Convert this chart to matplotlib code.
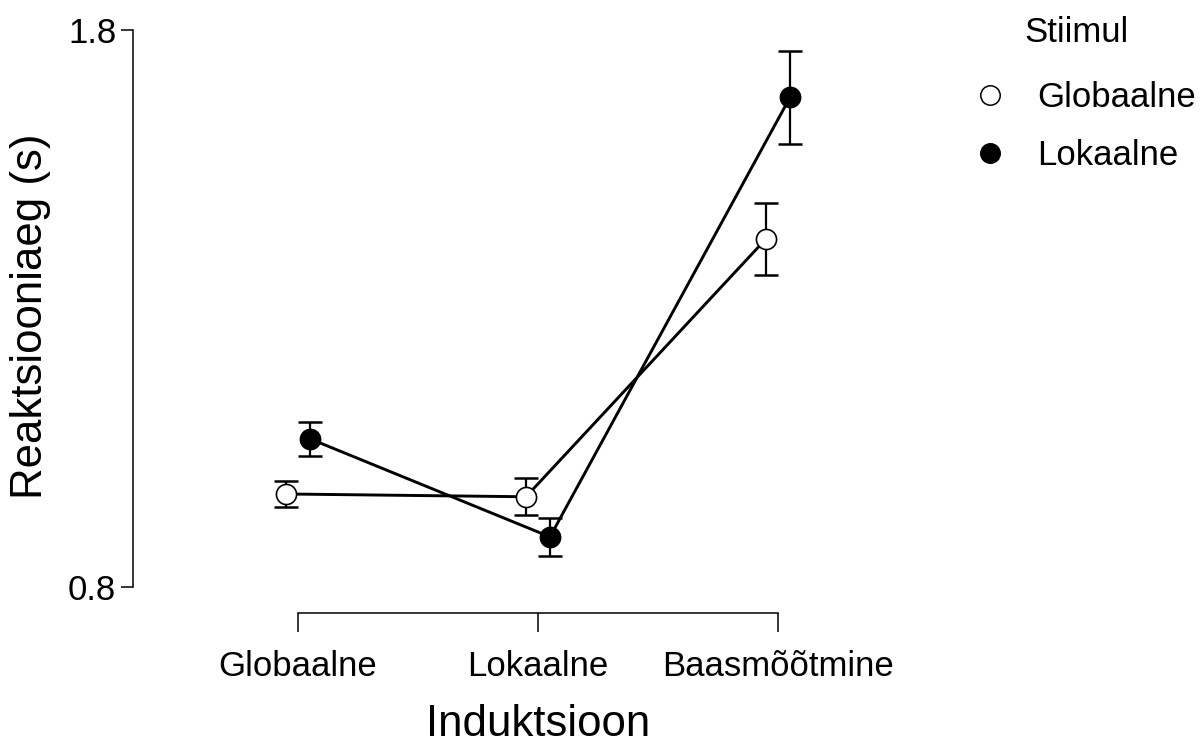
import numpy as np
import matplotlib
matplotlib.use('Agg')
import matplotlib.pyplot as plt
from matplotlib.lines import Line2D

plt.rcParams['font.family'] = ['Liberation Sans', 'DejaVu Sans']

# andmed (loetud jooniselt)
induktsioon = ['Globaalne', 'Lokaalne', 'Baasmõõtmine']
stiimul = ['Globaalne', 'Lokaalne']
glob_mean = [0.967, 0.962, 1.425]
glob_se = [0.024, 0.033, 0.064]
lok_mean = [1.066, 0.890, 1.679]
lok_se = [0.030, 0.034, 0.083]

fig = plt.figure(figsize=(12.03, 7.45), dpi=100)
W, H = 1203, 745
# telje asukoht pikslites: vasak 133, ülemine 30, alumine 587
left, right, top, bottom = 133, 900, 30, 587
ax = fig.add_axes([left / W, 1 - bottom / H, (right - left) / W, (bottom - top) / H])

x = np.arange(len(induktsioon))
dodge = 0.05
px_per_unit = 240
ax.set_xlim((left - 298) / px_per_unit, (right - 298) / px_per_unit)
ax.set_ylim(0.8, 1.8)

for means, ses, fc, off in [(glob_mean, glob_se, 'white', -dodge), (lok_mean, lok_se, 'black', dodge)]:
    xx = x + off
    ax.plot(xx, means, color='black', lw=2.1, zorder=2, clip_on=False)
    ax.errorbar(xx, means, yerr=ses, fmt='none', ecolor='black', elinewidth=1.6,
                capsize=8.5, capthick=1.8, zorder=3, clip_on=False)
    ax.plot(xx, means, 'o', ms=14.5, mfc=fc, mec='black', mew=1.2, ls='none', zorder=4, clip_on=False)

for s in ['top', 'right']:
    ax.spines[s].set_visible(False)
ax.spines['left'].set_bounds(0.8, 1.8)
ax.spines['bottom'].set_bounds(0, 2)
ax.spines['bottom'].set_position(('outward', 19))
ax.spines['left'].set_linewidth(1.1)
ax.spines['bottom'].set_linewidth(1.1)

ax.set_yticks([0.8, 1.8])
ax.set_yticklabels(['0.8', '1.8'])
ax.set_xticks(x)
ax.set_xticklabels(induktsioon)
ax.tick_params(axis='y', labelsize=25, length=9, width=1.1, pad=3)
ax.tick_params(axis='x', labelsize=25, length=14, width=1.1, pad=12)

ax.set_xlabel('Induktsioon', fontsize=31.5, va='top')
ax.xaxis.set_label_coords((538 - left) / (right - left), (bottom - 704) / (bottom - top))
fig.text(31 / W, 1 - 316 / H, 'Reaktsiooniaeg (s)', fontsize=31.5, rotation=90,
         ha='center', va='center')

# legend
fig.text(1076 / W, 1 - 32 / H, 'Stiimul', fontsize=25, ha='center', va='center')
handles = [Line2D([], [], marker='o', ls='none', ms=14, mfc='white', mec='black', mew=1.1),
           Line2D([], [], marker='o', ls='none', ms=14, mfc='black', mec='black', mew=1.1)]
leg = fig.legend(handles, stiimul, loc='upper left',
                 bbox_to_anchor=(973 / W, 1 - 81 / H), frameon=False,
                 fontsize=25, handlelength=1.0, handletextpad=0.85,
                 labelspacing=0.72, borderpad=0.0, borderaxespad=0.0)

fig.savefig('out.png', dpi=100)
